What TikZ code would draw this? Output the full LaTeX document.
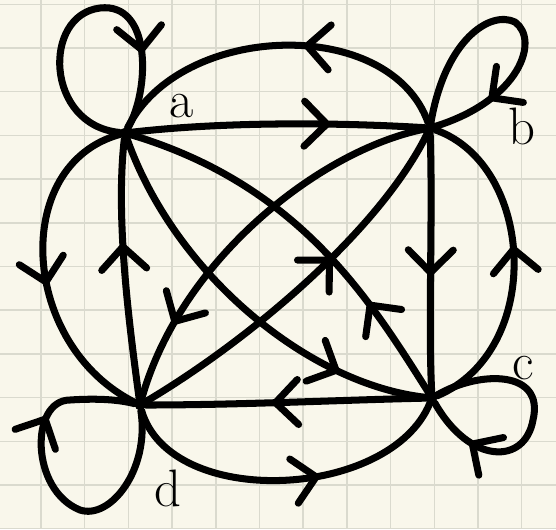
\documentclass[tikz,border=0pt]{standalone}
\usepackage{tikz}
\usetikzlibrary{arrows.meta,decorations.markings}
\definecolor{paper}{RGB}{249,247,235}
\definecolor{rule}{RGB}{218,218,206}

\begin{document}
\begin{tikzpicture}[x=0.02cm,y=-0.02cm,
	gridline/.style={draw=rule,line width=0.9pt},
	ink/.style={draw=black,line width=4pt,line cap=round,line join=round},
	vert/.style={circle,fill=black,inner sep=0pt,minimum size=6pt},
	midarrow/.style={postaction={decorate},decoration={markings,
		mark=at position #1 with {\arrow[line width=4pt]{Straight Barb[length=4.5mm,width=9mm,round]}}}},
	lab/.style={font=\fontsize{30}{30}\selectfont,inner sep=0pt}]
	%% paper
	\fill[paper] (0,0) rectangle (556,529);
	\useasboundingbox (0,0) rectangle (556,529);
	\foreach \i in {0,...,13} \draw[gridline] ({-2.7+43.7*\i},0) -- ++(0,529);
	\foreach \j in {0,...,12} \draw[gridline] (0,{4.3+43.7*\j}) -- ++(556,0);
	%% vertices
	\node[vert] (a) at (125,133) {};
	\node[vert] (b) at (430,128) {};
	\node[vert] (c) at (432,398) {};
	\node[vert] (d) at (140,405) {};
	%% loops
	\draw[ink,midarrow=0.76] (a) .. controls (45,125) and (42,15) .. (100,8)
		.. controls (152,2) and (150,90) .. (a);
	\draw[ink,midarrow=0.8] (b) .. controls (445,40) and (490,10) .. (515,22)
		.. controls (540,40) and (520,100) .. (b);
	\draw[ink,midarrow=0.8] (c) .. controls (480,370) and (545,370) .. (533,420)
		.. controls (525,465) and (470,465) .. (c);
	\draw[ink,midarrow=0.72] (d) .. controls (150,470) and (110,520) .. (80,510)
		.. controls (30,490) and (30,400) .. (70,400)
		.. controls (100,398) and (120,400) .. (d);
	%% square sides
	\draw[ink,midarrow=0.68] (a) .. controls (220,122) and (330,122) .. (b);
	\draw[ink,midarrow=0.55] (b) .. controls (433,220) and (428,320) .. (c);
	\draw[ink,midarrow=0.55] (c) .. controls (340,400) and (240,405) .. (d);
	\draw[ink,midarrow=0.6] (d) .. controls (130,330) and (115,220) .. (a);
	%% outer arcs
	\draw[ink,midarrow=0.43] (b) .. controls (390,15) and (180,22) .. (a);
	\draw[ink,midarrow=0.55] (c) .. controls (545,350) and (535,165) .. (b);
	\draw[ink,midarrow=0.6] (d) .. controls (170,510) and (390,500) .. (c);
	\draw[ink,midarrow=0.55] (a) .. controls (10,165) and (20,345) .. (d);
	%% diagonals
	\draw[ink,midarrow=0.78] (a) .. controls (175,275) and (310,385) .. (c);
	\draw[ink,midarrow=0.27] (c) .. controls (370,300) and (300,185) .. (a);
	\draw[ink,midarrow=0.8] (b) .. controls (320,150) and (180,260) .. (d);
	\draw[ink,midarrow=0.6] (d) .. controls (250,340) and (380,230) .. (b);
	%% labels
	\node[lab] (la) at (182,106) {a};
	\node[lab] (lb) at (522,126) {b};
	\node[lab] (lc) at (523,368) {c};
	\node[lab] (ld) at (168,488) {d};
\end{tikzpicture}
\end{document}
